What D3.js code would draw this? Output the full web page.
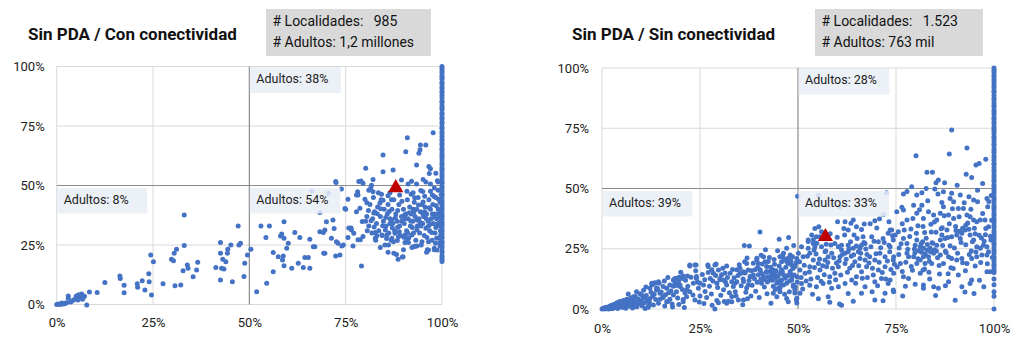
<!DOCTYPE html>
<html><head><meta charset="utf-8">
<script src="https://cdn.jsdelivr.net/npm/d3@7"></script>
<style>
body{margin:0;background:#fff;}
svg{display:block;font-family:Roboto,"Noto Sans",sans-serif;}
</style></head><body>
<svg id="chart" width="1016" height="349"></svg>
<script>
// Axis ticks (percent) and their labels
const ticks = [0, 25, 50, 75, 100];
const tickLabels = ["0%", "25%", "50%", "75%", "100%"];

const panelTitles = ["Sin PDA / Con conectividad", "Sin PDA / Sin conectividad"];
const infoLines = [
  ["# Localidades:   985", "# Adultos: 1,2 millones"],
  ["# Localidades:   1.523", "# Adultos: 763 mil"]
];
// quadrant labels: top-right, bottom-left, bottom-right
const quadrantLabels = [
  ["Adultos: 38%", "Adultos: 8%", "Adultos: 54%"],
  ["Adultos: 28%", "Adultos: 39%", "Adultos: 33%"]
];
// average locality (triangle marker)
const averagePoints = [[88, 49], [57, 30]];

// Sin PDA / Con conectividad: [x %, y %]
const conPoints = [
  [0,0],[0.4,0.2],[0.9,0],[1.3,0.6],[1.6,0.2],[2,0.3],[2.2,0.5],[2.6,0.7],[3,3.6],[3.7,1.1],[3,2.6],[4.3,1.8],[4.8,2.4],[5.1,3.6],[5.4,2.9],[5.7,4.1],[6,2.6],[6.2,3.4],[6.5,4.4],[6.9,3],[5.5,1.9],[6.7,2.2],[7.2,3.5],[7.8,-0.2],[8.5,5.3],[10.5,5],[12.5,9.2],[16.4,12],[16.5,10.9],[17.5,8.1],[17.5,4.9],[20.9,8.7],[21,7.3],[22.2,10],[22.9,6.1],[23.9,12.9],[24,9.6],[24.4,20.8],[24.6,4],[25.1,18],[27.6,8.7],[29.8,19],[30.3,18.4],[30.5,21.5],[31.1,23.2],[30.7,7.9],[32.2,8.2],[32.8,14.2],[33.1,24.8],[33.1,37.6],[33.9,16.6],[34.1,15.2],[35.4,11.7],[36.3,14.5],[36.6,17.8],[41.3,15.5],[42.5,26.1],[42.5,21.5],[42.5,10.3],[43.1,19],[42.8,15.2],[43.4,14.9],[43.9,18],[44.3,21.5],[44.4,23.2],[45.2,25],[45.6,9.6],[47.1,33],[47.3,25],[47.7,25.7],[48.6,11.8],[48.8,17.3],[49.5,20.8],[50.4,23.2],
  [51.9,5.4],[53,33],[54.5,8.9],[54.3,28.2],[55.2,33],[56.2,13.8],[56.2,21.8],[57.5,20.1],[58.8,20.4],[58.6,18.7],[59,16.3],[58.4,29.6],[59,34.8],[58.1,28.8],[59,27.8],[60.1,25.7],[59.7,23.6],[61,15.2],[61.8,30.2],[63.1,28.2],[62.7,17.3],[64,15.5],[64.4,19.8],[65.3,19.8],[65.7,15.2],[65.7,27.4],[66.6,24.3],[67,24.3],[66.2,47.7],[68.3,38.7],[68.3,30.6],[69.2,30.2],[69.3,21.5],[69.6,21.5],[69.6,31.3],[70,34.8],[70.5,46.7],[71.3,27.8],[71.7,35.5],[72,31.9],[72.4,20.4],[72.4,51.7],[72.6,26.4],[73,25.7],[73.5,20.8],[73.9,48.5],[74,24.6],[74.4,25],[74.8,40.3],[75,40],[75.6,44.2],[75.8,32.1],[76.4,32.1],[76.5,31.3],[75.6,28.1],[77.1,29.9],[76.9,24.6],[77.8,46],[77.8,39],[78.2,27.2],[78.4,51.7],[78.7,40.4],[78.8,27.2],[79.1,16.2],[79.3,34.9],[79.5,28.6],[78.1,47.4],[78.2,46],[79,51.9],[79.5,50.9],[80.2,57.2],[80,44.2],[80.5,42.8],[80.2,35],[80.6,31],
  [72.5,51.3],[82.1,52.5],[81.7,50.1],[84.7,62.8],[84.7,55.8],[87.3,56.5],[89.5,52.3],[90.6,64.2],[91,70.1],[91.2,50.6],[92.1,51.8],[93.4,50.6],[93.4,58.6],[94.4,67],[95.8,67],[94.3,65],[94,63.6],[95.1,52.5],[95.8,51.5],[96.6,58],[97,57],[96.7,55],[97,50.6],[97.7,72.2],[98.4,55.1],[99,51.5],[98.8,52],
  [81.5,49],[82.1,47.4],[84.3,46.3],[84.7,43.8],[86.9,44],[86,45.7],[90.9,47.6],[92,46.3],[92.9,44.9],[94.5,47.9],[95.5,45.5],[97,47.6],[98,45.4],
  [82.7,30.2],[82.7,27.8],[84.4,29.2],[85.3,31.3],[85.7,29.2],[87,27.8],[87.4,26.4],[86.1,25],[87.8,29.9],[88.7,28.5],[90.4,29.2],[90.9,27.1],[92.2,29.2],[92.6,24.3],[93.5,24.6],[94.8,26.4],[96.5,22.9],[98.3,25.7],[98.7,22.9],[96.5,26.4],[98,23.6],[87.5,21.5],[88.6,19],[89.9,20.1],
  [80.5,37],[81,33],[81.3,42],[81.8,30],[82,36],[82.2,45],[82.5,39],[82.8,27],[83,34],[83.3,41],[83.6,31],[84,37],[84.2,44],[84.5,29],[84.8,35],[85,40],[85.2,25],[85.5,33],[85.8,38],[86,42],[86.2,30],[86.5,36],[86.8,27],[87,40],[87.2,34],[87.5,44],[87.7,31],[88,38],[88.2,21],[88.3,35],[88.8,42],[89,33],[89.2,29],[89.5,37],[89.7,20],[90,40],[90.2,34],[90.4,26],[90.6,38],[90.8,31],[91,44],[91.2,36],[91.4,28],[91.6,41],[91.8,33],[92,38],[92.2,24],[92.4,35],[92.6,30],[92.8,43],[93,37],[93.2,27],[93.4,40],[93.6,33],[93.8,45],[94,36],[94.2,30],[94.4,39],[94.6,25],[94.8,42],[95,34],[95.2,37],[95.4,29],[95.6,41],[95.8,32],[96,38],[96.2,23],[96.4,35],[96.6,44],[96.8,31],[97,40],[97.2,36],[97.4,27],[97.6,42],[97.8,34],[98,38],[98.2,30],[98.4,45],[98.6,36],[98.8,33],[99,40],[99.2,28],[99.3,37],[99.5,43],[99.6,31],[99.7,35],[99.8,39],
  [84,24],[86,22],[90,23],[93,24.5],[96,22],[98,23],[97.5,46],[95,47.5],[92.5,47],[89,46],[83.5,47],[86.5,47],[81,48],[99,48],[98,49],[88.5,39.5],[89.5,35],[91.5,38.5],[93.5,35.5],[95.5,39],[97.5,38],[99,34],[99.4,26],[98.5,41.5],[96.5,33],[94.5,33],[92.5,40],[90.5,36],[88.5,32.5],[86.5,34],
  [80.9,39.5],[81.6,35.2],[82.4,32.6],[83.2,38.1],[83.9,42.6],[84.6,33.1],[85.4,36.6],[86.3,39.1],[87.1,32.2],[87.9,36.4],[88.9,30.6],[89.6,43.4],[90.3,37.6],[91.1,30.1],[91.9,35.1],[92.7,38.9],[93.5,31.3],[94.3,34.6],[95.1,43.1],[95.9,36.1],[96.7,40.6],[97.3,30.2],[97.9,36.9],[98.6,27.8],[99.1,44.2],[99.5,24.6],[99.7,29.3],[99.4,33.1],[98.9,38.1],[99.8,46.2],[98.4,32.4],[97.1,33.8],[96.1,28.2],[94.9,38.4],[93.9,41.8],[92.3,32.4],[91.3,26.1],[90.1,28.3],[88.4,26.9],[86.9,35.6],[85.6,27.7],[84.1,40.2],[83.1,28.9],[82.3,38.4]
];
// y values of the localities at x = 100 %
const conFull = [100,99.2,98.1,97.4,96.2,95.5,94.6,93.3,92.7,91.5,90.8,89.6,88.9,87.7,86.8,85.4,84.9,83.6,82.7,81.9,80.5,79.8,78.6,77.9,76.7,75.8,74.4,73.9,72.6,71.8,70.7,69.5,68.8,67.6,66.9,65.5,64.8,63.7,62.6,61.9,60.8,59.6,58.7,57.5,56.8,55.9,54.6,53.8,52.7,51.5,50.9,49.6,48.8,47.7,46.5,45.9,44.8,43.6,42.9,41.7,40.6,39.8,38.7,37.5,36.9,35.8,34.6,33.7,32.9,31.6,30.8,29.7,28.5,27.9,26.6,25.8,24.7,23.9,22.6,21.8,20.5,19.7,18.9,18.1];

// Sin PDA / Sin conectividad: [x %, y %]
const sinPoints = [
  [0,0],[0.3,0.1],[0.5,0.4],[0.8,0],[1,0.7],[1.2,0.2],[1.5,0.5],[1.7,0],[1.9,1.1],[2.2,0.4],[2.4,1.6],[2.6,0.1],[2.9,0.9],[3.1,2],[3.3,0.5],[3.6,1.4],[3.8,2.6],[4,0.2],[4.2,1.9],[4.5,3.1],[4.7,1],[4.9,2.3],[5.2,0.6],[5.4,3.5],[5.6,1.6],[5.9,2.8],[6.1,0.3],[6.3,4],[6.6,2],[6.8,3.2],[7,1.2],[7.3,4.6],[7.5,2.5],[7.8,0.4],[8,3.6],[8.2,1.8],[8.5,5.2],[8.7,2.9],[8.9,0.9],[9.2,4.2],[9.4,2.2],[9.7,6.3],[9.9,3.4],[10.2,1.3],[10.5,4.8],[10.8,2.6],[11,0.2],[11.3,5.6],[11.6,3.3],[11.9,1.5],[12.2,4.3],[12.5,7],
  [6.7,6.2],[8,5.1],[8.8,7.2],[10.1,5.8],[11.4,3.7],[12.2,8.6],[12.7,10.7],[13.5,10.9],[14.4,11.3],[13.9,7.9],[14.8,6.5],[15.6,9.3],[16.5,8.6],[17.3,10],[18.2,12],[18.6,12.7],[19.5,11.3],[20.3,12.7],[20.7,13.7],[21.8,13.7],[19.9,9.3],[19,7.2],[18.2,5.8],[17.3,4],[16.5,3],[15.6,4.8],[14.4,2.4],[13.1,1.7],[11.8,0.7],[10.5,2.4],[22.4,17.8],[24,18.3],[23.3,10.7],[24.1,12.7],[24.6,8.6],[22.4,7.2],[21.6,5.1],[20.7,3],[23.7,3.7],[25,5.4],
  [12.7,10],[13.5,10.7],[14.6,10.7],[13.9,8.7],[15.6,5.2],[16.9,3.2],[18.2,9.4],[18.6,10.7],[19,12.8],[19.7,13.2],[19.9,10],[20.7,3.9],[21.2,6.6],[21.6,8],[22.4,18.3],[23.7,18.3],[24.1,13.5],[25,10.7],[25.9,10],[26.3,7.3],[27.1,17.6],[28,16.3],[28.8,18.3],[29.3,10.7],[30.1,12.1],[30.5,14.2],[31,8],[31.4,14.9],[31.8,10],[32.2,3.2],[33.1,5.2],[33.9,10.7],[34.4,16.3],[35.2,16.9],[35.6,14.9],[36.1,11.4],[36.5,14.9],[36.9,8.7],[37.3,10],[37.8,13.5],[38.6,19],[39,16.3],[39.5,21.1],[39.9,14.2],[40.3,16.3],[40.7,10.7],[41.2,13.5],[41.6,12.1],[42,15.6],[42.4,19.7],[42.9,15.6],[43.3,13.5],[43.7,9.4],[44.1,14.2],[45,11.4],[45.4,8.7],[45.8,16.3],[46.3,14.2],[46.7,12.8],[47.1,19.7],[47.5,21.1],[48,15.6],[48.4,13.5],[48.8,10],[49.2,6.6],[49.7,4.5],[49.7,2.5],
  [27,18.3],[29.1,18.7],[31.8,17.8],[27.1,15.1],[27.6,12.7],[28.4,14.8],[29.7,16.2],[30.1,12.7],[31,12],[32.7,14.8],[33.1,11.3],[33.5,9.3],[34.4,11.3],[35.2,14.8],[36.1,15.5],[36.9,18.9],[37.3,16.2],[37.8,13.4],[38.6,14.1],[39.5,20.3],[39.9,18.9],[40.3,16.2],[40.7,14.8],[41.2,21.7],[41.6,19.6],[42,17.6],[42.4,13.4],[42.9,12],[43.3,14.8],[43.7,16.2],[44.1,12.7],[44.6,10.7],[45,8.6],[45.4,14.8],[45.8,12],[46.3,10],[47.1,10.7],[48,14.8],[48.4,12],[48.8,9.3],[49.2,7.9],[49.7,13.4],[34.8,3.7],[36.1,3.7],[37.1,4.3],[40.1,4.8],[29.3,3.5],[29.7,2.6],[28.8,0],[31.8,2.4],[33.1,3],[47.1,4.4],[47.5,3],[45.4,7.2],[44.6,5.1],[43.7,6.5],[47.1,25.2],[46.3,23.1],[45.4,21.7],[45.8,19.6],[46.1,22.4],[48,22.4],[48.6,21.7],[47.5,18.9],[48.4,18.3],[49.2,17.6],[49.7,21],[40.3,32],[36.3,26.4],[37.6,26.1],[45.2,28.9],[47.6,29.7],[49.9,46.8],
  [10.6,7.8],[11.2,9.1],[12.9,5.3],[13.7,3.9],[14.2,8.4],[15.1,7.1],[15.9,11.6],[16.2,5.9],[16.8,13.1],[17.6,7.5],[17.9,2.1],[18.9,9.8],[19.3,4.6],[20.1,15.2],[20.5,8.1],[21.3,11.9],[21.9,9.4],[22.7,13.2],[23.2,5.8],[23.9,15.9],[24.4,11.1],[24.8,2.9],[12.1,2.6],[13.3,6.1],[14.9,4.2],[16,1.2],[17,6.7],[18,0.8],[19.6,1.9],[21,0.6],
  [25.6,14.3],[26.2,12.1],[26.7,4.8],[27.4,9.4],[27.9,6.2],[28.3,11.6],[29,13.9],[29.5,8.9],[30.3,5.7],[30.8,16.9],[31.5,11.2],[32,13.1],[32.5,6.7],[33.3,16.4],[33.7,13],[34,7.2],[34.7,13.9],[35,18.4],[35.5,9.6],[36,12.4],[36.7,6.9],[37,21.2],[37.5,11.8],[38.1,15.9],[38.3,9.9],[38.9,12.6],[39.2,7.4],[39.7,17.2],[40.5,12.3],[40.9,18.7],[41.4,9.1],[41.9,15.3],[42.2,11.2],[42.7,21.4],[43,17.3],[43.5,11.9],[44,18.6],[44.4,15.9],[44.9,13.5],[45.2,17.8],[45.7,10.3],[46,15.6],[46.5,20.8],[46.9,17.3],[47.3,13.8],[47.8,11.6],[48.2,19.9],[48.7,16.8],[49,14.1],[49.5,19.2],[49.8,11.2],[46.6,6.1],[44.2,8.1],[42.1,6.3],[39.6,11.1],[38,5.4],[35.9,1.8],[34.2,5.4],[31.2,3.1],[28.1,1.6],[26,2.3],[43.1,2.4],[47.8,7.2],[49.3,9.1],[36.4,19.6],[41.7,24.6],[44.8,24.2],[48.9,26.4],[43.9,20.5],[40.6,22.3],
  [54.3,33.4],[55.3,34.1],[53.5,30.7],[52.6,28.6],[53.9,27.2],[54.7,30],[52.6,28],[53.9,28.7],[54.1,24.5],[54.8,27.3],[55.6,30],[56,32.1],[55.2,47.2],[60.7,42.4],[72.6,48.2],
  [60.1,36.2],[62,36.2],[64.1,36.9],[64.9,34.1],[66.2,33],[69.6,36.6],[61.9,30.7],[62.8,32.8],[64.3,30.7],[66.6,30],[67.1,27.2],[68.8,30],[70.5,27.9],[71.7,29.3],[73,31.4],[73.9,32.8],[74.3,28.6],[59.4,27.2],[60.3,25.8],[61.1,26.5],[62.8,26.5],[64.1,25.2],[64.9,26.1],[65.8,25.2],[66.2,26.5],[65.4,23.8],[62.8,23.8],[62,23.1],[61.1,24.5],[60.7,21.7],[58.6,23.1],[57.7,21.7],[56.9,23.8],[56,25.8],[54.3,25.8],[52.6,25.2],[50.9,25.8],[50.1,23.1],[51.3,21.7],[53,23.1],[53.9,20.3],[55.2,18.9],[56.9,20.3],[57.3,17.5],[55.6,16.2],[53,17.5],[51.8,14.8],[50.5,16.2],[50.9,10.6],[53,9.9],[54.7,9.2],[56.4,10.6],[58.1,13.4],[59.4,14.8],[60.3,17.5],[62,18.9],[63.2,16.9],[64.5,19.6],[65.8,21],[67.1,20.3],[68.3,21.7],[69.6,20.3],[70.9,23.1],[72.2,21.7],[73.4,23.8],[74.3,20.3],[72.2,17.5],[70.5,16.2],[69.2,14.1],[67.5,17.5],[66.2,15.5],[64.9,13.4],[63.7,12],[62,10.6],[60.3,9.2],[58.6,8.6],[57.7,5.1],[61.1,1.6],[66.2,6.5],[67.1,9.2],[69.6,11.3],[71.3,12.7],[73,10.6],[74.3,7.9],[72.2,6.5],[69.6,3.7],[50.5,6.5],[49.6,3.7],
  [50.4,19.6],[50.8,13.1],[51.2,8.3],[51.6,18.2],[52.1,11.6],[52.4,21.9],[52.9,15.4],[53.3,12.4],[53.7,6.1],[54.2,17.2],[54.6,22.8],[55,13.1],[55.5,20.7],[55.9,11.5],[56.3,17.9],[56.7,14.2],[57.1,24.1],[57.6,19.3],[58,11.1],[58.4,26.6],[58.8,16.9],[59.1,21.3],[59.6,12.1],[60,29.8],[60.5,19.9],[60.9,14.1],[61.3,22.6],[61.7,33.4],[62.3,20.6],[62.6,15.2],[63,24.9],[63.4,27.9],[63.9,18.1],[64.2,22.5],[64.7,10.7],[65.1,29.3],[65.5,17.9],[66,23.1],[66.4,12.8],[66.8,27.6],[67.3,24.9],[67.7,13.1],[68.1,19.1],[68.6,25.8],[69,16.9],[69.4,28.1],[69.9,22.9],[70.3,9.6],[70.7,19.4],[71.1,25.4],[71.5,15.1],[72,27.6],[72.4,12.4],[72.8,19.9],[73.2,26.5],[73.7,16.4],[74.1,30.4],[74.6,18.6],[55.2,4.3],[58.1,2.8],[62.8,6.4],[64.1,3.2],[68.9,7.2],[71.7,3.4],[60.6,2.1],[66.9,35.3],[63.5,35.6],[70.8,37.5],[73.2,36.2],
  [89.2,74.3],[80.1,63.6],[88.6,64.3],[93.1,66.8],[95.4,59.7],[96.2,60.4],[97.9,62.1],[92.9,55.9],[94.3,54.6],[82.9,56.7],[84.3,56.7],[85.2,52.4],[85.8,53.5],[87.4,52.4],[97.1,52.1],[79,50.7],[76.9,47.7],[77.8,48.8],[80.3,47.3],[81.6,48.2],[82.7,50],[87.1,48.7],[89.2,48],[88.8,45.9],[89.7,44.5],[91.4,47.3],[93.6,46.6],[94.8,45.2],[95.8,44.5],[98.2,45.9],[98.4,42.4],
  [75.2,40.4],[76.5,42.2],[76.9,41.1],[77.8,36.9],[79.5,43.1],[80.3,39.7],[81.6,43.1],[82,37.6],[83.3,40.4],[84.6,39],[85.4,36.9],[86.3,39.7],[87.1,42.4],[88.4,39],[89.7,37.6],[90.9,41.7],[92.2,41.7],[93.1,39],[93.9,38.3],[94.8,36.9],[95.6,36.2],[96.5,36.9],[97.7,36.9],[98.6,34.1],[73.5,32.8],[74.8,30.7],[75.6,32.1],[76.9,29.3],[77.8,27.2],[79.9,26.5],[80.3,28.6],[81.2,25.8],[82,25.2],[82.9,24.5],[83.7,25.2],[83.3,21.7],[84.6,23.1],[85.4,26.5],[86.3,28.6],[86.7,30.7],[87.5,29.3],[88,32.8],[89.2,30],[90.5,30.7],[91.4,29.3],[91.8,31.4],[92.6,32.8],[93.9,30.7],[94.8,28.6],[95.6,25.8],[96.5,25.2],[97.3,26.5],[98.2,25.8],[98.6,23.8],
  [73.5,25.8],[74.4,21.7],[76.1,18.9],[77.8,23.1],[78.2,21.7],[79.5,21.7],[80.3,18.9],[81.2,20.3],[82,21.7],[82.4,18.9],[84.1,18.9],[86.3,22.4],[87.1,18.9],[88.4,21.7],[89.2,21],[90.5,20.3],[91.8,21],[93.1,18.9],[94.3,21],[95.6,21.7],[96.9,22.4],[98.2,22.4],[74.4,14.8],[76.9,13.4],[78.2,12.7],[81.2,14.8],[82,10],[82,8.6],[84.6,9.2],[85.8,8.6],[88.4,11.3],[90.9,14.1],[91.8,9.2],[93.9,10.6],[94.3,12],[98.2,15.5],[99,15.5],[73.5,12],[74.4,7.2],
  [81.5,23.5],[82.5,22.8],[83.8,23.8],[84.8,24.6],[85.6,21.3],[83,26.8],[84.2,27.5],[81.8,27.9],[80.8,24.2],[79.8,23.2],[92,33.5],[92.8,34.8],[93.6,33.1],[91.2,32.3],[90.2,34.2],[88.8,26.2],[87.6,24],[86.8,33.7],[85.2,31.8],[95.2,31.2],[96.8,29.5],[97.8,30.8],[99.2,28.6],[94.2,24.1],[95.2,17.8],[92.7,15.9],[89.6,16.8],[86.1,14.5],[83.4,15.3],[79.2,16.1],[77.4,9.4],[75.8,25.3],[76.6,35.4],[78.8,33.2],[80.6,34.5],[82.3,31.7],[83.9,35.2],[71.8,39.2],[70.1,33.6],[68.4,35.4],[67.6,22.6],[63.6,21.9],[59.8,19.1],[58.2,31.2],[57.2,26.9],
  [75.3,17.4],[75.7,22.6],[76.3,27.1],[76.6,15.6],[77.1,32.8],[77.5,19.4],[78,24.8],[78.5,30.1],[78.9,17.6],[79.3,37.6],[79.7,24.9],[80.2,31.4],[80.6,20.9],[81,41.2],[81.4,27.1],[81.9,34.2],[82.3,16.6],[82.7,29.4],[83.1,44.9],[83.5,19.8],[84,31.9],[84.4,27.3],[84.8,36.1],[85.3,24.1],[85.7,47.7],[86,18.1],[86.5,33.3],[86.9,26.4],[87.3,38.7],[87.8,23.4],[88.2,29.7],[88.6,35.4],[89,17.1],[89.4,41.6],[89.9,25.3],[90.3,32.6],[90.7,23.1],[91.1,38.3],[91.6,27.6],[92,19.2],[92.4,44.1],[92.8,26.7],[93.3,35.7],[93.7,22.6],[94.1,41.4],[94.5,27.9],[95,33.5],[95.4,23.6],[95.8,49.3],[96.2,30.6],[96.6,19.3],[97.1,39.6],[97.5,28.1],[97.9,33.4],[98.3,18.8],[98.7,44.6],[99.1,30.2],[99.4,36.8],[99.6,21.4],[99.3,47.1],[83.6,12.4],[87.6,9.6],[92.6,7.1],[96.3,11.9],[79.9,10.3],[85.1,5.6],[90.1,3.6],[94.9,6.4],[97.4,9.2],[76.7,5.4],[88.3,14.6],[81.9,16.2],[86.7,44.2],[90.6,51.4],[84.9,49.8]
];
// y values of the localities at x = 100 %
const sinFull = [100,99.1,98.3,97.2,96.5,95.4,94.7,93.6,92.5,91.8,90.6,89.9,88.7,87.6,86.8,85.7,84.5,83.8,82.6,81.7,80.8,79.5,78.7,77.6,76.8,75.5,74.6,73.8,72.7,71.5,70.9,69.7,68.6,67.8,66.5,65.7,64.9,63.6,62.8,61.7,60.5,59.9,58.6,57.7,56.8,55.6,54.7,53.5,52.9,51.6,50.8,49.7,48.6,47.8,46.5,45.6,44.9,43.7,42.6,41.8,40.7,39.5,38.8,37.6,36.7,35.9,34.6,33.8,32.5,31.7,30.6,29.8,28.7,27.5,26.9,25.7,24.6,23.8,22.9,21.6,20.8,19.7,18.6,17.8,16.7,15.9,15.1,12.4,10.1,7.2,5.3,0];

const panels = [
  { title: panelTitles[0], info: infoLines[0], quads: quadrantLabels[0], avg: averagePoints[0],
    points: conPoints.concat(conFull.map(y => [100, y])),
    x: [56.7, 442], y: [304.5, 66.5], titleX: 28, infoBox: [266, 9, 165, 47], yPad: 12, xPad: 13 },
  { title: panelTitles[1], info: infoLines[1], quads: quadrantLabels[1], avg: averagePoints[1],
    points: sinPoints.concat(sinFull.map(y => [100, y])),
    x: [602, 994], y: [309, 68], titleX: 572, infoBox: [815, 9, 168, 47], yPad: 13, xPad: 15 }
];

const svg = d3.select("#chart");
const dotColor = "#4472c4";

panels.forEach(p => {
  const xs = d3.scaleLinear().domain([0, 100]).range(p.x);
  const ys = d3.scaleLinear().domain([0, 100]).range(p.y);
  const g = svg.append("g");

  // light gridlines
  g.selectAll("line.gx").data(ticks.filter(t => t !== 50)).join("line")
    .attr("x1", d => xs(d)).attr("x2", d => xs(d))
    .attr("y1", ys(0)).attr("y2", ys(100))
    .attr("stroke", "#d9d9d9").attr("stroke-width", 1);
  g.selectAll("line.gy").data(ticks.filter(t => t !== 50)).join("line")
    .attr("y1", d => ys(d)).attr("y2", d => ys(d))
    .attr("x1", xs(0)).attr("x2", xs(100))
    .attr("stroke", "#d9d9d9").attr("stroke-width", 1);

  // quadrant dividers at 50 %
  g.append("line").attr("x1", xs(50)).attr("x2", xs(50)).attr("y1", ys(0)).attr("y2", ys(100))
    .attr("stroke", "#8c8c8c").attr("stroke-width", 1.2);
  g.append("line").attr("x1", xs(0)).attr("x2", xs(100)).attr("y1", ys(50)).attr("y2", ys(50))
    .attr("stroke", "#8c8c8c").attr("stroke-width", 1.2);

  // axes (labels only)
  const yAxis = d3.axisLeft(ys).tickValues(ticks).tickFormat((d, i) => tickLabels[i])
    .tickSize(0).tickPadding(p.yPad);
  const xAxis = d3.axisBottom(xs).tickValues(ticks).tickFormat((d, i) => tickLabels[i])
    .tickSize(0).tickPadding(p.xPad);
  const ya = g.append("g").attr("transform", `translate(${xs(0)},0)`).call(yAxis);
  const xa = g.append("g").attr("transform", `translate(0,${ys(0)})`).call(xAxis);
  [ya, xa].forEach(a => {
    a.select(".domain").remove();
    a.selectAll("text").attr("fill", "#222").attr("font-size", 13)
      .attr("font-family", "Roboto, 'Noto Sans', sans-serif");
  });

  // localities
  g.append("g").selectAll("circle").data(p.points).join("circle")
    .attr("cx", d => xs(d[0])).attr("cy", d => ys(d[1]))
    .attr("r", 2.5).attr("fill", dotColor);

  // average marker
  g.append("path")
    .attr("d", d3.symbol(d3.symbolTriangle).size(100))
    .attr("transform", `translate(${xs(p.avg[0])},${ys(p.avg[1])})`)
    .attr("fill", "#c00000");

  // quadrant labels
  const boxes = [
    [xs(50) + 0.5, ys(100) + 0.5, 91, 26],
    [xs(0) + 0.5, ys(50) + 2.5, 90, 25.5],
    [xs(50) + 0.5, ys(50) + 2.5, 90.5, 25.5]
  ];
  boxes.forEach((b, i) => {
    g.append("rect").attr("x", b[0]).attr("y", b[1]).attr("width", b[2]).attr("height", b[3])
      .attr("fill", "#e9eef7").attr("fill-opacity", 0.85);
    g.append("text").attr("x", b[0] + 6.5).attr("y", b[1] + 15.5)
      .attr("font-size", 12.5).attr("fill", "#222").text(p.quads[i]);
  });

  // title
  g.append("text").attr("x", p.titleX).attr("y", 40).attr("font-size", 17)
    .attr("font-weight", "bold").attr("fill", "#111").text(p.title);

  // info box
  const ib = p.infoBox;
  g.append("rect").attr("x", ib[0]).attr("y", ib[1]).attr("width", ib[2]).attr("height", ib[3])
    .attr("fill", "#d9d9d9");
  p.info.forEach((t, i) => {
    g.append("text").attr("x", ib[0] + 6.5).attr("y", 26 + i * 20.5)
      .attr("font-size", 14).attr("fill", "#111").attr("xml:space", "preserve")
      .style("white-space", "pre").text(t);
  });
});
</script>
</body></html>
